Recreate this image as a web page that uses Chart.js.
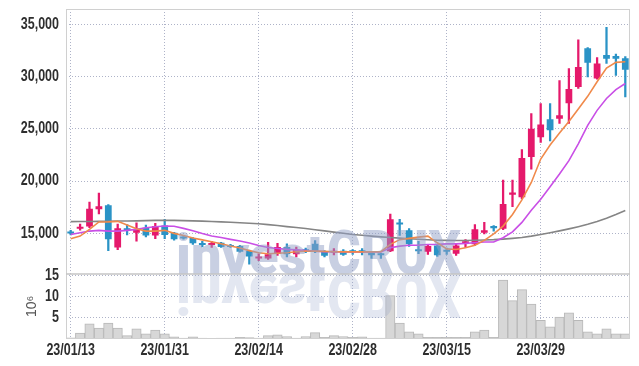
<!DOCTYPE html>
<html>
<head>
<meta charset="utf-8">
<script src="https://cdn.jsdelivr.net/npm/chart.js@4.4.0/dist/chart.umd.min.js"></script>
<style>
  html, body { margin: 0; padding: 0; background: #fff; }
</style>
</head>
<body>
<canvas id="stockChart" width="639" height="366"></canvas>
<script>
const dates = [
  "23/01/13","23/01/16","23/01/17","23/01/18","23/01/19","23/01/20","23/01/25","23/01/26","23/01/27","23/01/30",
  "23/01/31","23/02/01","23/02/02","23/02/03","23/02/06","23/02/07","23/02/08","23/02/09","23/02/10","23/02/13",
  "23/02/14","23/02/15","23/02/16","23/02/17","23/02/20","23/02/21","23/02/22","23/02/23","23/02/24","23/02/27",
  "23/02/28","23/03/02","23/03/03","23/03/06","23/03/07","23/03/08","23/03/09","23/03/10","23/03/13","23/03/14",
  "23/03/15","23/03/16","23/03/17","23/03/20","23/03/21","23/03/22","23/03/23","23/03/24","23/03/27","23/03/28",
  "23/03/29","23/03/30","23/03/31","23/04/03","23/04/04","23/04/05","23/04/06","23/04/07","23/04/10","23/04/11"
];

const open = [
  15100, 15450, 15650, 17300, 17700, 13650, 15450, 15050, 15550, 14800,
  15750, 15050, 14650, 14550, 14050, 13900, 14100, 13850, 13800, 13350,
  12600, 12600, 13050, 13700, 13000, 13400, 14000, 13300, 13150, 13350,
  13250, 13300, 13150, 12950, 13300, 16000, 15300, 13450, 13250, 13850,
  13350, 13050, 14000, 13950, 15050, 15700, 15450, 18700, 18450, 22300,
  24200, 25900, 25950, 27450, 29000, 32700, 29800, 32050, 31950, 31750
];
const high = [
  15300, 15900, 18000, 18850, 17750, 15900, 15850, 16000, 15800, 15950,
  16350, 15100, 14700, 14600, 14250, 14250, 14150, 13950, 13850, 13400,
  13050, 14150, 14050, 14000, 13700, 13600, 14300, 13350, 13550, 13450,
  13450, 13550, 13200, 13100, 16850, 16350, 15450, 14250, 13850, 13900,
  13600, 13950, 14400, 15850, 16050, 15750, 20100, 20100, 23000, 26450,
  27400, 27400, 29600, 30750, 33500, 32750, 31800, 34700, 32150, 31900
];
const low = [
  14850, 15300, 15550, 16850, 13350, 13450, 14850, 14250, 14650, 14500,
  14500, 14350, 14450, 13950, 13700, 13650, 13650, 13650, 13200, 12050,
  12400, 12500, 12900, 12750, 12750, 13150, 13150, 12750, 12950, 12900,
  13000, 12950, 12600, 12600, 13250, 14800, 13750, 13050, 13000, 12800,
  13000, 12900, 13650, 13850, 14950, 15200, 15350, 17550, 18300, 21150,
  23700, 23850, 25500, 25500, 28850, 29950, 29750, 31250, 30100, 28050
];
const close = [
  15000, 15600, 17350, 17600, 14450, 15480, 15300, 15350, 14800, 15700,
  14850, 14450, 14500, 14050, 13900, 14050, 13700, 13700, 13250, 12800,
  12750, 13000, 13700, 13000, 13450, 13300, 13300, 12850, 13350, 12950,
  13200, 13200, 12900, 12900, 16350, 15850, 13950, 13300, 13800, 12900,
  13250, 13850, 14250, 15400, 15300, 15500, 17800, 18900, 22200, 25000,
  25400, 24850, 26300, 28800, 30900, 31300, 31250, 31700, 31700, 30650
];

// volume, in millions of shares
const volume = [
  0.3, 1.4, 3.6, 2.6, 3.8, 2.6, 0.8, 2.4, 1.25, 2.1,
  1.25, 0.5, 0.2, 0.5, 0.2, 0.15, 0.2, 0.2, 0.4, 0.35,
  0.2, 0.8, 1.0, 0.6, 0.2, 0.6, 1.5, 0.4, 0.8, 0.6,
  0.4, 0.5, 0.2, 0.2, 10.3, 3.8, 1.7, 1.2, 0.4, 0.4,
  0.4, 0.4, 0.4, 1.7, 2.1, 0.4, 14.0, 9.1, 11.7, 8.3,
  4.4, 2.9, 5.2, 6.2, 4.4, 1.7, 1.2, 2.4, 1.2, 1.2
];

const ma5 = [
  14480, 14740, 15380, 16090, 16100, 16150, 15800, 15440, 15220, 15220,
  15290, 15000, 14800, 14550, 14380, 14200, 14000, 13800, 13600, 13350,
  13150, 13050, 13100, 13150, 13250, 13300, 13300, 13280, 13250, 13230,
  13230, 13230, 13230, 13250, 13950, 14400, 14520, 14640, 14740, 14100,
  13520, 13460, 13620, 13870, 14330, 14960, 15700, 16800, 18200, 19870,
  22110, 23450, 24600, 25700, 26900, 28100, 29500, 30800, 31350, 31400
];
const ma20 = [
  14900, 15060, 15220, 15290, 15220, 15220, 15290, 15380, 15540, 15640,
  15700, 15680, 15480, 15250, 14980, 14750, 14600, 14430, 14280, 14080,
  13850, 13650, 13560, 13470, 13420, 13360, 13300, 13260, 13250, 13230,
  13230, 13230, 13230, 13230, 13620, 13780, 13870, 13880, 13940, 13950,
  14000, 14000, 14040, 14100, 14170, 14170, 14580, 15150, 16050, 17210,
  18270, 19450, 20670, 21950, 23560, 25320, 26760, 27900, 28750, 29330
];
const ma60 = [
  16120, 16130, 16140, 16150, 16160, 16180, 16190, 16200, 16220, 16240,
  16250, 16240, 16220, 16200, 16170, 16130, 16100, 16060, 16020, 15970,
  15920, 15840, 15750, 15650, 15560, 15460, 15350, 15240, 15120, 15010,
  14900, 14820, 14740, 14670, 14610, 14550, 14490, 14440, 14390, 14350,
  14330, 14320, 14320, 14340, 14370, 14400, 14450, 14520, 14610, 14740,
  14900, 15060, 15240, 15430, 15640, 15870, 16130, 16440, 16800, 17190
];

const priceTicks = [15000, 20000, 25000, 30000, 35000];
const volumeTicks = [5, 10, 15];
const dateTickEvery = 10;

const UP = "#e5196b";
const DOWN = "#2a93c6";
const candleColor = open.map((o, i) => close[i] >= o ? UP : DOWN);

const gridStyle = { color: "#aeb3c8", drawTicks: false };
const borderStyle = { display: false, dash: [1, 2] };

// narrow tick labels: Liberation Sans squeezed horizontally
function narrowText(ctx, text, x, y, align, baseline) {
  ctx.save();
  ctx.font = "bold 16px 'Liberation Sans', sans-serif";
  ctx.fillStyle = "#2e2e2e";
  ctx.textAlign = align;
  ctx.textBaseline = baseline;
  ctx.translate(x, y);
  ctx.scale(0.78, 1);
  ctx.fillText(text, 0, 0);
  ctx.restore();
}

// investCRUX logo with its mirror image
function drawWord(ctx, text, x, base, w, size, alpha, flip) {
  ctx.save();
  ctx.font = "900 " + size + "px Roboto, 'Liberation Sans', sans-serif";
  const m = ctx.measureText(text).width;
  ctx.translate(x, base);
  ctx.scale(w / m, flip ? -1 : 1);
  ctx.fillStyle = "rgba(145,160,198," + alpha + ")";
  ctx.textBaseline = "alphabetic";
  ctx.fillText(text, 0, 0);
  ctx.restore();
}

const decorations = {
  id: "decorations",
  afterDatasetsDraw(chart) {
    const ctx = chart.ctx;
    const a = chart.chartArea;
    const base = chart.scales.y.bottom;
    ctx.save();
    ctx.beginPath();
    ctx.rect(a.left, a.top, a.right - a.left, a.bottom - a.top);
    ctx.clip();
    drawWord(ctx, "invest", 176, base, 149, 56, 0.5, false);
    drawWord(ctx, "CRUX", 327, base, 134, 61, 0.5, false);
    drawWord(ctx, "invest", 176, base, 149, 56, 0.25, true);
    drawWord(ctx, "CRUX", 327, base, 134, 61, 0.25, true);
    ctx.restore();
  },
  afterDraw(chart) {
    const ctx = chart.ctx;
    const a = chart.chartArea;
    const sx = chart.scales.x, sy = chart.scales.y, sv = chart.scales.yv;
    ctx.save();
    ctx.strokeStyle = "#d0d0d0";
    ctx.lineWidth = 1;
    ctx.strokeRect(a.left + 0.5, a.top + 0.5, a.right - a.left - 1, a.bottom - a.top - 1);
    ctx.strokeStyle = "#c4c4c4";
    ctx.lineWidth = 1.5;
    const y = Math.round(sy.bottom);
    ctx.beginPath();
    ctx.moveTo(a.left, y);
    ctx.lineTo(a.right, y);
    ctx.stroke();
    ctx.restore();

    priceTicks.forEach(v => narrowText(ctx, v.toLocaleString("en-US"), a.left - 7, sy.getPixelForValue(v), "right", "middle"));
    volumeTicks.forEach(v => narrowText(ctx, String(v), a.left - 7, sv.getPixelForValue(v), "right", "middle"));
    dates.forEach((d, i) => {
      if (i % dateTickEvery === 0) narrowText(ctx, d, sx.getPixelForValue(i), a.bottom + 4, "center", "top");
    });
  }
};

const ctx = document.getElementById("stockChart").getContext("2d");

new Chart(ctx, {
  type: "bar",
  data: {
    labels: dates,
    datasets: [
      { type: "line", label: "MA5", data: ma5, borderColor: "#f08a4b", borderWidth: 1.6, pointRadius: 0, yAxisID: "y", order: 0 },
      { type: "line", label: "MA20", data: ma20, borderColor: "#c94fe6", borderWidth: 1.6, pointRadius: 0, yAxisID: "y", order: 0 },
      { type: "line", label: "MA60", data: ma60, borderColor: "#858585", borderWidth: 1.6, pointRadius: 0, yAxisID: "y", order: 0 },
      {
        label: "body",
        data: open.map((o, i) => [o, close[i]]),
        backgroundColor: candleColor,
        barPercentage: 0.72,
        categoryPercentage: 1,
        minBarLength: 2,
        grouped: false,
        yAxisID: "y",
        order: 1
      },
      {
        label: "wick",
        data: low.map((l, i) => [l, high[i]]),
        backgroundColor: candleColor,
        barThickness: 1.6,
        grouped: false,
        yAxisID: "y",
        order: 2
      },
      {
        label: "volume",
        data: volume,
        backgroundColor: "#d7d7d7",
        borderColor: "#b8b8b8",
        borderWidth: 1,
        barPercentage: 1,
        categoryPercentage: 1,
        grouped: false,
        yAxisID: "yv",
        order: 3
      }
    ]
  },
  options: {
    responsive: false,
    animation: false,
    layout: { padding: { top: 9, right: 9, bottom: 0, left: 0 } },
    plugins: { legend: { display: false }, tooltip: { enabled: false } },
    scales: {
      x: {
        grid: Object.assign({ offset: false }, gridStyle),
        border: borderStyle,
        afterBuildTicks(axis) { axis.ticks = axis.ticks.filter(t => t.value % dateTickEvery === 0); },
        afterFit(scale) { scale.height = 27; },
        ticks: { display: false, autoSkip: false }
      },
      yv: {
        type: "linear",
        position: "left",
        stack: "panels",
        stackWeight: 1,
        min: 0,
        max: 15.5,
        grid: gridStyle,
        border: borderStyle,
        afterBuildTicks(axis) { axis.ticks = volumeTicks.map(v => ({ value: v })); },
        afterFit(scale) { scale.width = 66; },
        ticks: { display: false },
        title: { display: true, text: "10⁶", color: "#555", font: { family: "'Liberation Sans', sans-serif", size: 14 }, padding: { top: 24, bottom: 0 } }
      },
      y: {
        type: "linear",
        position: "left",
        stack: "panels",
        stackWeight: 4.05,
        min: 11150,
        max: 36450,
        grid: gridStyle,
        border: borderStyle,
        afterBuildTicks(axis) { axis.ticks = priceTicks.map(v => ({ value: v })); },
        afterFit(scale) { scale.width = 66; },
        ticks: { display: false }
      }
    }
  },
  plugins: [decorations]
});
</script>
</body>
</html>
